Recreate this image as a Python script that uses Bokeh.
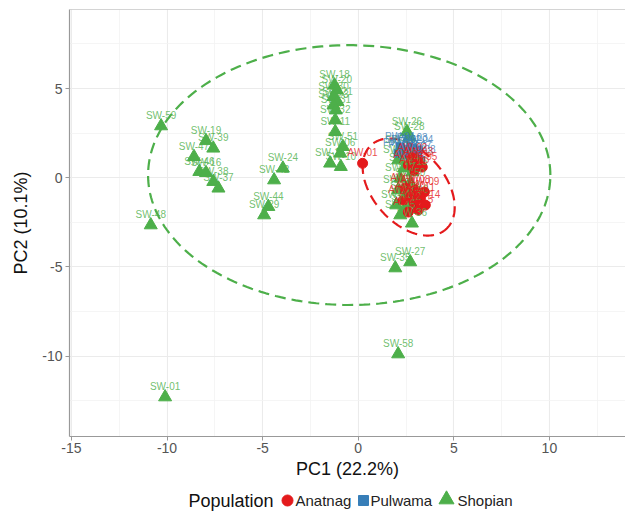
import numpy as np
from bokeh.plotting import figure
from bokeh.layouts import column
from bokeh.models import (ColumnDataSource, SingleIntervalTicker, Span, Range1d,
                          CustomJSTickFormatter)
from bokeh.embed import file_html
from bokeh.resources import INLINE
from bokeh.core.properties import value

# ---------------- data ----------------
anatnag_labels = ["AW-01", "AW-02", "AW-03", "AW-04", "AW-05", "AW-06", "AW-07", "AW-08",
                  "AW-09", "AW-10", "AW-11", "AW-12", "AW-13", "AW-14", "AW-15", "AW-16"]
anatnag_x = [0.23, 2.83, 3.14, 2.62, 3.35, 2.93, 2.46, 2.98,
             3.46, 2.72, 3.25, 2.36, 2.93, 3.51, 3.14, 2.62]
anatnag_y = [0.81, 1.10, 0.88, 0.71, 0.60, 0.43, -0.58, -0.69,
             -0.80, -1.03, -1.14, -1.25, -1.42, -1.53, -1.81, -1.92]

pulwama_labels = ["PW-01", "PW-02", "PW-03", "PW-04", "PW-05", "PW-06", "PW-07", "PW-08", "PW-09"]
pulwama_x = [2.20, 2.51, 2.83, 3.14, 2.36, 2.72, 3.04, 3.25, 2.09]
pulwama_y = [1.72, 1.55, 1.66, 1.55, 1.27, 1.16, 1.22, 0.99, 1.38]

shopian_labels = ["SW-59", "SW-48", "SW-19", "SW-39", "SW-47", "SW-46", "SW-16", "SW-38",
                  "SW-37", "SW-24", "SW-42", "SW-44", "SW-29", "SW-18", "SW-20", "SW-30",
                  "SW-21", "SW-23", "SW-31", "SW-32", "SW-11", "SW-51", "SW-06", "SW-13",
                  "SW-10", "SW-26", "SW-28", "SW-25", "SW-33", "SW-14", "SW-15", "SW-17",
                  "SW-50", "SW-22", "SW-34", "SW-40", "SW-41", "SW-12", "SW-45", "SW-36",
                  "SW-27", "SW-35", "SW-58", "SW-01"]
shopian_x = [-10.31, -10.85, -7.96, -7.58, -8.59, -8.31, -7.96, -7.58,
             -7.31, -3.94, -4.40, -4.70, -4.92, -1.24, -1.12, -1.29,
             -1.08, -1.29, -1.17, -1.20, -1.20, -0.80, -0.94, -1.47,
             -0.91, 2.55, 2.67, 2.20, 2.09, 2.41, 2.83, 2.20,
             2.72, 2.09, 2.46, 2.88, 1.99, 2.51, 2.20, 2.81,
             2.72, 1.94, 2.09, -10.10]
shopian_y = [2.90, -2.65, 2.07, 1.65, 1.18, 0.34, 0.28, -0.22,
             -0.59, 0.53, -0.13, -1.62, -2.09, 5.19, 4.91, 4.54,
             4.26, 4.07, 3.79, 3.23, 2.58, 1.74, 1.37, 0.81,
             0.62, 2.58, 2.28, 1.55, 0.99, 0.54, 0.32, -0.02,
             -0.30, -0.69, -1.03, -1.25, -1.53, -1.64, -2.09, -2.55,
             -4.72, -5.06, -9.88, -12.29]

# confidence ellipses: centre x, centre y, semi-axis a, semi-axis b, angle (deg)
anatnag_ellipse = [2.64, -0.52, 3.07, 1.94, -53.2]
shopian_ellipse = [-0.47, 0.15, 10.52, 7.28, 0.0]

legend_title = "Population"
legend_labels = ["Anatnag", "Pulwama", "Shopian"]

tick_interval = 5
x_range = [-15.1, 13.98]
y_range = [-14.5, 9.43]

RED, BLUE, GREEN = "#E41A1C", "#377EB8", "#4DAF4A"
FONT = "Liberation Sans"


def ellipse_path(params, n=240):
    cx, cy, a, b, ang = params
    t = np.linspace(0, 2 * np.pi, n)
    th = np.deg2rad(ang)
    xs = cx + a * np.cos(t) * np.cos(th) - b * np.sin(t) * np.sin(th)
    ys = cy + a * np.cos(t) * np.sin(th) + b * np.sin(t) * np.cos(th)
    return xs, ys


p = figure(width=625, height=489, output_backend="svg", toolbar_location=None,
           x_range=Range1d(*x_range), y_range=Range1d(*y_range),
           min_border_left=69, min_border_right=0, min_border_top=9, min_border_bottom=53,
           x_axis_label="PC1 (22.2%)", y_axis_label="PC2 (10.1%)")
p.background_fill_color = "white"
p.border_fill_color = "white"
p.outline_line_color = None
p.add_layout(Span(location=y_range[1], dimension="width", line_color="#aaaaaa", line_width=1.2))

for ax in (p.xaxis[0], p.yaxis[0]):
    ax.ticker = SingleIntervalTicker(interval=tick_interval, num_minor_ticks=2)
    ax.formatter = CustomJSTickFormatter(code="return tick.toString();")
    ax.axis_line_color = "#999999"
    ax.axis_line_width = 1.2
    ax.major_tick_line_color = "#999999"
    ax.major_tick_out = 4
    ax.major_tick_in = 0
    ax.minor_tick_out = 0
    ax.minor_tick_in = 0
    ax.major_label_text_font = FONT
    ax.major_label_text_font_size = "14px"
    ax.major_label_text_color = "#555555"
    ax.axis_label_text_font = FONT
    ax.axis_label_text_font_size = "18px"
    ax.axis_label_text_font_style = "normal"
    ax.axis_label_text_color = "#111111"
p.xaxis.major_label_standoff = 2
p.xaxis.axis_label_standoff = 3
p.yaxis.major_label_standoff = 3
p.yaxis.axis_label_standoff = 8

for g in (p.xgrid[0], p.ygrid[0]):
    g.grid_line_color = "#EBEBEB"
    g.grid_line_width = 1.1
    g.minor_grid_line_color = "#F3F3F3"
    g.minor_grid_line_width = 0.8

# ellipses
ex, ey = ellipse_path(shopian_ellipse)
p.line(ex, ey, line_color=GREEN, line_width=2.2, line_dash="11 6")
ex, ey = ellipse_path(anatnag_ellipse)
p.line(ex, ey, line_color=RED, line_width=2.2, line_dash="11 6")

src_a = ColumnDataSource(dict(x=anatnag_x, y=anatnag_y, lab=anatnag_labels))
src_p = ColumnDataSource(dict(x=pulwama_x, y=pulwama_y, lab=pulwama_labels))
src_s = ColumnDataSource(dict(x=shopian_x, y=shopian_y, lab=shopian_labels))

p.scatter("x", "y", source=src_s, marker="triangle", size=13, fill_color=GREEN, line_color=GREEN)
p.scatter("x", "y", source=src_p, marker="square", size=8, fill_color=BLUE, line_color=BLUE)
p.scatter("x", "y", source=src_a, marker="circle", size=10, fill_color=RED, line_color=RED)

for src, col in ((src_s, GREEN), (src_p, BLUE), (src_a, RED)):
    p.text("x", "y", text="lab", source=src, text_font=value(FONT), text_font_size="10px",
           text_color=col, text_alpha=0.8, text_align="center", text_baseline="bottom",
           y_offset=-5)

# ---------------- legend row (strip below the plot; x in page pixels) ----------------
leg = figure(width=625, height=22, output_backend="svg", toolbar_location=None,
             x_range=Range1d(69, 625), y_range=Range1d(0, 22),
             x_axis_type=None, y_axis_type=None,
             min_border_left=69, min_border_right=0, min_border_top=0, min_border_bottom=0)
leg.outline_line_color = None
leg.grid.visible = False
leg.background_fill_color = "white"
leg.border_fill_color = "white"

leg.text([188], [11], text=[legend_title], text_font=value(FONT), text_font_size="18px",
         text_color="#111111", text_baseline="middle", text_align="left")
marker_x = [287, 363, 446]
label_x = [295, 370, 457]
leg.scatter(marker_x, [11, 11, 12], marker=["circle", "square", "triangle"],
            size=[11, 10, 15], fill_color=[RED, BLUE, GREEN], line_color=[RED, BLUE, GREEN])
leg.text(label_x, [11, 11, 11], text=legend_labels, text_font=value(FONT),
         text_font_size="15px", text_color="#222222", text_baseline="middle", text_align="left")

layout = column(p, leg, spacing=0)
open("out.html", "w").write(file_html(layout, INLINE))
